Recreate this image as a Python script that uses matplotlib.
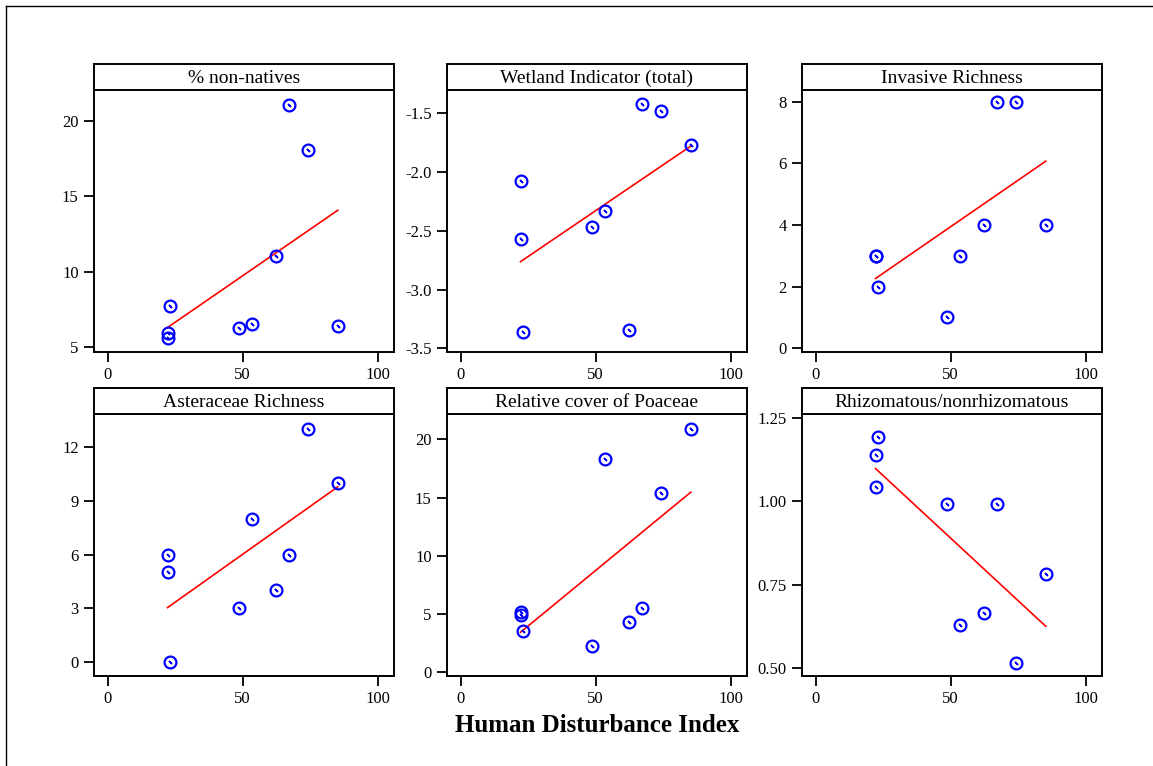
import numpy as np
import matplotlib
matplotlib.use('Agg')
import matplotlib.pyplot as plt
from matplotlib.lines import Line2D

plt.rcParams['font.family'] = ['Liberation Serif', 'DejaVu Serif']

# Human Disturbance Index for the nine sites (shared x)
hdi = [22.2, 22.2, 23.1, 48.6, 53.6, 62.2, 67.2, 74.0, 85.2]

titles = ['% non-natives', 'Wetland Indicator (total)', 'Invasive Richness',
          'Asteraceae Richness', 'Relative cover of Poaceae', 'Rhizomatous/nonrhizomatous']

non_natives = [5.9, 5.6, 7.75, 6.26, 6.52, 11.04, 21.04, 18.09, 6.39]
wetland = [-2.075, -2.571, -3.358, -2.469, -2.332, -3.340, -1.423, -1.477, -1.768]
invasive = [3, 3, 2, 1, 3, 4, 8, 8, 4]
asteraceae = [6, 5, 0, 3, 8, 4, 6, 13, 10]
poaceae = [5.1, 4.9, 3.5, 2.2, 18.3, 4.25, 5.5, 15.4, 20.9]
rhizo = [1.139, 1.043, 1.193, 0.991, 0.627, 0.663, 0.991, 0.514, 0.783]

series = [non_natives, wetland, invasive, asteraceae, poaceae, rhizo]

yticks = [[5, 10, 15, 20],
          [-3.5, -3.0, -2.5, -2.0, -1.5],
          [0, 2, 4, 6, 8],
          [0, 3, 6, 9, 12],
          [0, 5, 10, 15, 20],
          [0.50, 0.75, 1.00, 1.25]]
ytick_labels = [['5', '10', '15', '20'],
                ['-3.5', '-3.0', '-2.5', '-2.0', '-1.5'],
                ['0', '2', '4', '6', '8'],
                ['0', '3', '6', '9', '12'],
                ['0', '5', '10', '15', '20'],
                ['0.50', '0.75', '1.00', '1.25']]
ylims = [(4.67, 22.06), (-3.53, -1.30), (-0.13, 8.39),
         (-0.76, 13.82), (-0.37, 22.19), (0.475, 1.263)]

W, H = 1153, 766
fig = plt.figure(figsize=(W / 100, H / 100), dpi=100)

# outer frame: only left and top lines
fig.add_artist(Line2D([6 / W, 6 / W], [0, 1 - 6 / H], color='black', lw=1.0,
                      transform=fig.transFigure))
fig.add_artist(Line2D([6 / W, 1], [1 - 6 / H, 1 - 6 / H], color='black', lw=1.0,
                      transform=fig.transFigure))

col_left = [94, 447, 802]
row_strip_top = [64, 388]
strip_h = 26
plot_h = 262
panel_w = 300

for i in range(6):
    r, c = divmod(i, 3)
    left = col_left[c] / W
    strip_top = row_strip_top[r]
    plot_top = strip_top + strip_h
    ax = fig.add_axes([left, 1 - (plot_top + plot_h) / H, panel_w / W, plot_h / H])
    sax = fig.add_axes([left, 1 - plot_top / H, panel_w / W, strip_h / H])

    x = np.array(hdi)
    y = np.array(series[i])
    slope, icpt = np.polyfit(x, y, 1)
    xf = np.array([x.min(), x.max()])
    ax.plot(xf, icpt + slope * xf, color='red', lw=1.2, zorder=2)
    ax.plot(x, y, linestyle='none', marker='o', markersize=8.5, mfc='none',
            mec='blue', mew=1.6, zorder=3)
    ax.plot(x, y, linestyle='none', marker=(2, 2, 45), markersize=3,
            mec='blue', mew=1.0, zorder=3)

    ax.set_xlim(-5, 106)
    ax.set_ylim(*ylims[i])
    ax.set_xticks([0, 50, 100])
    ax.set_xticklabels(['0', '50', '100'])
    ax.set_yticks(yticks[i])
    ax.set_yticklabels(ytick_labels[i])
    ax.tick_params(direction='out', length=7, width=1.3, labelsize=12, pad=4)
    for sp in ax.spines.values():
        sp.set_linewidth(1.4)

    sax.set_xticks([])
    sax.set_yticks([])
    for sp in sax.spines.values():
        sp.set_linewidth(1.4)
    sax.text(0.5, 0.45, titles[i], ha='center', va='center', fontsize=14,
             transform=sax.transAxes)

fig.text(597 / W, 1 - 726 / H, 'Human Disturbance Index', ha='center', va='center',
         fontsize=18, fontweight='bold')

fig.savefig('out.png', dpi=100)
